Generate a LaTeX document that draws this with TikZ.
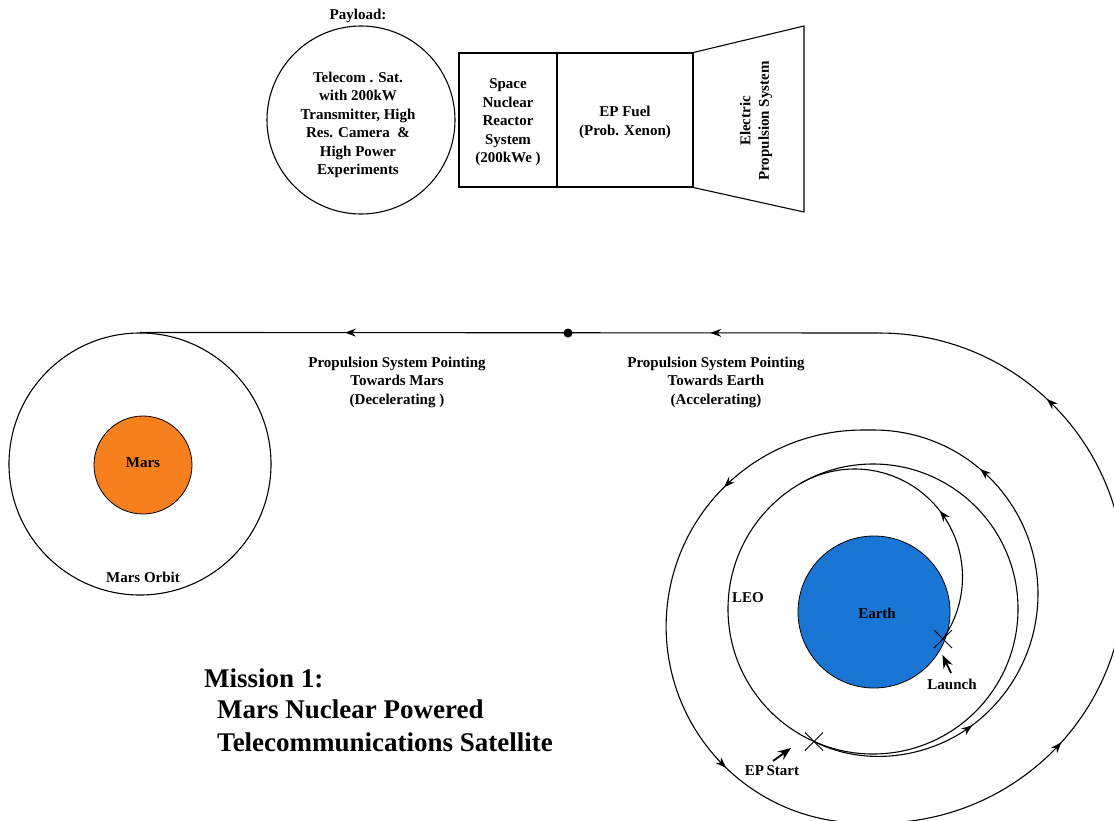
\documentclass[tikz,border=0pt]{standalone}
\usepackage{fontspec}
\setmainfont{Liberation Serif}
\usetikzlibrary{arrows.meta,decorations.markings,calc}

\definecolor{marsorange}{RGB}{246,128,30}
\definecolor{earthblue}{RGB}{26,118,212}

\tikzset{
  lbl/.style={font=\fontsize{15}{18.5}\selectfont\bfseries, align=center, inner sep=0pt},
  big/.style={font=\fontsize{27}{32}\selectfont\bfseries, anchor=west, inner sep=0pt},
  part/.style={draw, line width=1.1pt, inner sep=0pt},
  orbit/.style={draw, line width=1.1pt},
  path/.style={line width=1.1pt},
  twoarrows/.style 2 args={postaction={decorate},
    decoration={markings,
      mark=at position #1 with {\arrow{Stealth[length=11pt,width=8pt]}},
      mark=at position #2 with {\arrow{Stealth[length=11pt,width=8pt]}}}},
  onearrow/.style={postaction={decorate},
    decoration={markings,
      mark=at position #1 with {\arrow{Stealth[length=11pt,width=8pt]}}}},
  pointer/.style={-{Stealth[length=13pt,width=10pt]}, line width=1.8pt},
  cross/.style={line width=0.9pt},
  declare function={ew(\t)=sin(min(90,(\t-246)*1.5));},
}

\begin{document}
\begin{tikzpicture}[x=1pt,y=-1pt]
\useasboundingbox (0,0) rectangle (1114,820);

% ---------- spacecraft stack ----------
\node[part, circle, minimum size=188] (payload) at (361,120) {};
\node[lbl] (payloadtxt) at (358,125)
  {Telecom . Sat.\\with 200kW\\Transmitter, High\\Res. Camera \ \&\\High Power\\Experiments};
\node[lbl] (payloadhead) at (358,16) {Payload:};

\node[part, rectangle, minimum width=98, minimum height=134] (reactor) at (508,120) {};
\node[lbl] (reactortxt) at (508,122.5) {Space\\Nuclear\\Reactor\\System\\(200kWe )};

\node[part, rectangle, minimum width=136, minimum height=134] (fuel) at (625,120) {};
\node[lbl] (fueltxt) at (625,122.5) {EP Fuel\\(Prob. Xenon)};

\coordinate (nozzletop) at (804,26);
\coordinate (nozzlebot) at (804,212);
\draw[path] (fuel.north east) -- (nozzletop) -- (nozzlebot) -- (fuel.south east);
\node[lbl, rotate=90] (thrustertxt) at (756,121) {Electric\\Propulsion System};

% ---------- Mars ----------
\node[orbit, circle, minimum size=262, inner sep=0pt] (marsorbit) at (140,464) {};
\node[circle, draw, line width=0.8pt, fill=marsorange, minimum size=98, inner sep=0pt] (mars) at (143,465) {};
\node[lbl] (marslbl) at (143,463) {Mars};
\node[lbl] (marsorbitlbl) at (143,577) {Mars Orbit};

% ---------- Earth and LEO ----------
\node[circle, draw, line width=0.8pt, fill=earthblue, minimum size=152, inner sep=0pt] (earth) at (874,612) {};
\node[lbl] (earthlbl) at (877,613) {Earth};
\node[orbit, circle, minimum size=290, inner sep=0pt] (leo) at (873,609) {};
\node[lbl] (leolbl) at (748,598) {LEO};

% launch arc into LEO
\draw[path, onearrow=0.47]
  plot[domain=-35:120, samples=80, variable=\t] ({854.5+108*cos(\t)}, {577-108*sin(\t)});

% electric propulsion spiral
\coordinate (epstart) at (814,741.5);
\coordinate (turnAtop) at (874,430);
\coordinate (turnBbot) at (862.6,823);
\coordinate (escape) at (879.7,333);
\draw[path, twoarrows={0.29}{0.80}]
  plot[domain=246:450, samples=100, variable=\t]
    ({873 + ew(\t) + (145+19*ew(\t))*cos(\t)}, {609 - 15*ew(\t) - (145+19*ew(\t))*sin(\t)});
\draw[path, twoarrows={0.263}{0.76}]
  (turnAtop) -- plot[domain=450:630, samples=100, variable=\t] ({862.6+196.5*cos(\t)}, {626.5-196.5*sin(\t)});
\draw[path, twoarrows={0.282}{0.766}]
  (turnBbot) -- plot[domain=630:810, samples=100, variable=\t] ({879.7+245*cos(\t)}, {578-245*sin(\t)});

% transfer leg to Mars
\draw[path, twoarrows={0.229}{0.723}] (escape) -- (marsorbit.north);
\node[circle, fill, minimum size=9, inner sep=0pt] (midpoint) at (568,333) {};

% event marks
\coordinate (launchpt) at (943,639);
\draw[cross] ($(launchpt)+(-9,-9)$) -- ($(launchpt)+(9,9)$);
\draw[cross] ($(launchpt)+(-9,9)$) -- ($(launchpt)+(9,-9)$);
\draw[cross] ($(epstart)+(-9,-9)$) -- ($(epstart)+(9,9)$);
\draw[cross] ($(epstart)+(-9,9)$) -- ($(epstart)+(9,-9)$);

\coordinate (launchtail) at (951,673);
\coordinate (launchtip) at (942.5,655);
\draw[pointer] (launchtail) -- (launchtip);
\node[lbl] (launchlbl) at (952,684) {Launch};

\coordinate (eptail) at (773,761);
\coordinate (eptip) at (791,748);
\draw[pointer] (eptail) -- (eptip);
\node[lbl] (eplbl) at (772,771) {EP\,Start};

% ---------- captions ----------
\node[lbl] (decel) at (397,382) {Propulsion System Pointing\\Towards Mars\\(Decelerating )};
\node[lbl] (accel) at (716,382) {Propulsion System Pointing\\Towards Earth\\(Accelerating)};

\node[big] (title1) at (204,678) {Mission 1:};
\node[big] (title2) at (217,709) {Mars Nuclear Powered};
\node[big] (title3) at (217,742) {Telecommunications Satellite};
\end{tikzpicture}
\end{document}
